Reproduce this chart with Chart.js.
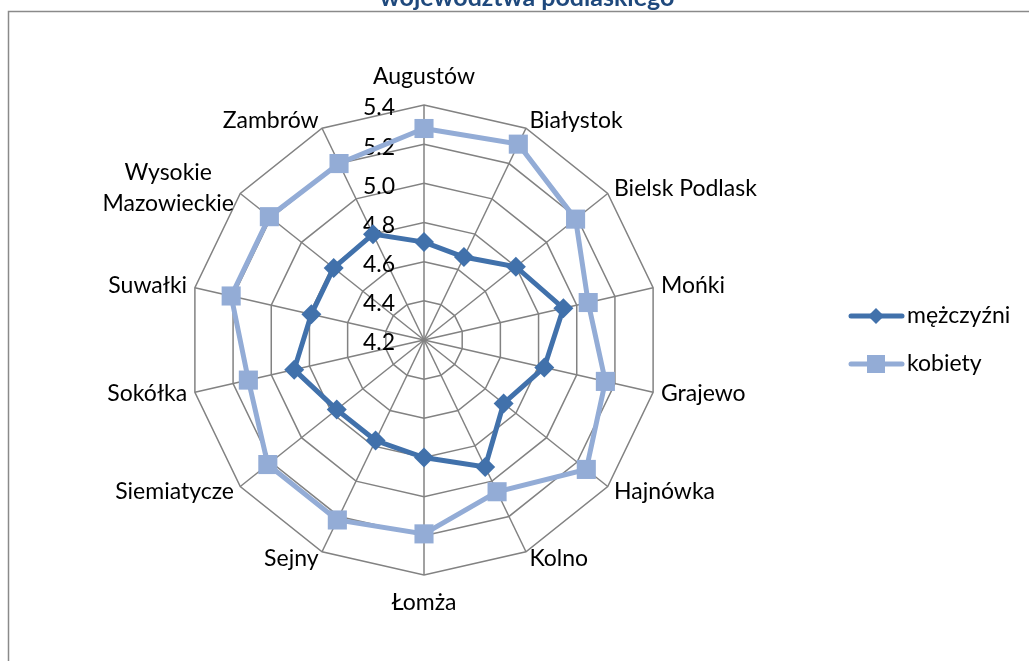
<!DOCTYPE html>
<html>
<head>
<meta charset="utf-8">
<title>Radar - województwo podlaskie</title>
<script src="https://cdn.jsdelivr.net/npm/chart.js"></script>
<style>
    html, body { margin: 0; padding: 0; background: #ffffff; }
    #wrap { width: 1029px; height: 661px; position: relative; }
</style>
</head>
<body>
<div id="wrap"><canvas id="radarChart" width="1029" height="661"></canvas></div>
<script>
// Dane
const categories = ['Augustów', 'Białystok', 'Bielsk Podlask', 'Mońki', 'Grajewo', 'Hajnówka', 'Kolno',
    'Łomża', 'Sejny', 'Siemiatycze', 'Sokółka', 'Suwałki', ['Wysokie', 'Mazowieckie'], 'Zambrów'];
const menValues = [4.70, 4.67, 4.80, 4.93, 4.83, 4.72, 4.92, 4.80, 4.77, 4.77, 4.88, 4.79, 4.79, 4.80];
const womenValues = [5.28, 5.31, 5.19, 5.06, 5.15, 5.26, 5.06, 5.19, 5.22, 5.22, 5.12, 5.21, 5.21, 5.20];
const tickLabels = ['4.2', '4.4', '4.6', '4.8', '5.0', '5.2', '5.4'];
const seriesNames = ['mężczyźni', 'kobiety'];
const titleText = 'województwa podlaskiego';

const FONT = 'Lato, "Open Sans", sans-serif';
const GRID = '#828282';

// Ramka, tytuł, etykiety, legenda w stylu Excela
const excelDecor = {
    id: 'excelDecor',
    beforeDatasetsDraw(chart) {
        const ctx = chart.ctx;
        const scale = chart.scales.r;
        ctx.save();
        ctx.fillStyle = '#000000';
        ctx.font = '23px ' + FONT;
        ctx.textAlign = 'right';
        ctx.textBaseline = 'middle';
        tickLabels.forEach(function(t) {
            const d = scale.getDistanceFromCenterForValue(parseFloat(t));
            ctx.fillText(t, scale.xCenter - 29, scale.yCenter - d + 3);
        });
        ctx.restore();
    },
    afterDraw(chart) {
        const ctx = chart.ctx;
        const scale = chart.scales.r;
        ctx.save();

        // ramka
        ctx.strokeStyle = '#8a8a8a';
        ctx.lineWidth = 1.5;
        ctx.strokeRect(8.5, 11.5, 1100, 800);

        // tytuł (ucięty u góry)
        ctx.fillStyle = '#1f497d';
        ctx.font = 'bold 25px ' + FONT;
        ctx.textAlign = 'center';
        ctx.textBaseline = 'alphabetic';
        ctx.fillText(titleText, 527, 6);

        // etykiety kategorii
        ctx.fillStyle = '#000000';
        ctx.font = '23px ' + FONT;
        ctx.textBaseline = 'middle';
        const n = categories.length;
        categories.forEach(function(label, i) {
            const deg = i * 360 / n;
            const vertical = (deg === 0 || deg === 180);
            const p = scale.getPointPosition(i, scale.drawingArea + (vertical ? 28 : 8));
            const lines = Array.isArray(label) ? label : [label];
            const widths = lines.map(function(l) { return ctx.measureText(l).width; });
            const maxW = Math.max.apply(null, widths);
            let cx;
            if (vertical) cx = p.x;
            else if (deg < 180) cx = p.x + maxW / 2;
            else cx = p.x - maxW / 2;
            ctx.textAlign = 'center';
            const lh = 31;
            lines.forEach(function(l, k) {
                ctx.fillText(l, cx, p.y + (k - (lines.length - 1) / 2) * lh);
            });
        });

        // legenda
        chart.data.datasets.forEach(function(ds, k) {
            const y = 316 + k * 48;
            ctx.strokeStyle = ds.borderColor;
            ctx.lineWidth = 5;
            ctx.lineCap = 'round';
            ctx.beginPath();
            ctx.moveTo(851, y);
            ctx.lineTo(902, y);
            ctx.stroke();
            ctx.fillStyle = ds.pointBackgroundColor;
            ctx.beginPath();
            if (ds.pointStyle === 'rectRot') {
                ctx.moveTo(876, y - 8);
                ctx.lineTo(884, y);
                ctx.lineTo(876, y + 8);
                ctx.lineTo(868, y);
                ctx.closePath();
            } else {
                ctx.rect(867, y - 9, 18, 18);
            }
            ctx.fill();
            ctx.fillStyle = '#000000';
            ctx.textAlign = 'left';
            ctx.textBaseline = 'middle';
            ctx.fillText(ds.label, 907, y);
        });
        ctx.restore();
    }
};

document.addEventListener('DOMContentLoaded', function() {
    const radarChart = new Chart(document.getElementById('radarChart'), {
        type: 'radar',
        data: {
            labels: categories,
            datasets: [{
                label: seriesNames[0],
                data: menValues,
                borderColor: '#4171ab',
                backgroundColor: 'rgba(0,0,0,0)',
                pointBackgroundColor: '#4171ab',
                pointBorderColor: '#4171ab',
                borderWidth: 5,
                pointStyle: 'rectRot',
                pointRadius: 10,
                pointBorderWidth: 0,
                fill: false
            }, {
                label: seriesNames[1],
                data: womenValues,
                borderColor: '#93acd6',
                backgroundColor: 'rgba(0,0,0,0)',
                pointBackgroundColor: '#93acd6',
                pointBorderColor: '#93acd6',
                borderWidth: 5,
                pointStyle: 'rect',
                pointRadius: 13.5,
                pointBorderWidth: 0,
                fill: false
            }]
        },
        options: {
            responsive: false,
            animation: false,
            plugins: {
                legend: { display: false },
                tooltip: { enabled: false },
                title: { display: false }
            },
            scales: {
                r: {
                    min: 4.2,
                    max: 5.4,
                    ticks: { stepSize: 0.2, display: false },
                    grid: { color: GRID, lineWidth: 1.5 },
                    angleLines: { color: GRID, lineWidth: 1.5 },
                    pointLabels: { display: false },
                    afterFit: function(scale) {
                        scale.xCenter = 424;
                        scale.yCenter = 340;
                        scale.drawingArea = 235;
                    }
                }
            }
        },
        plugins: [excelDecor]
    });
});
</script>
</body>
</html>
